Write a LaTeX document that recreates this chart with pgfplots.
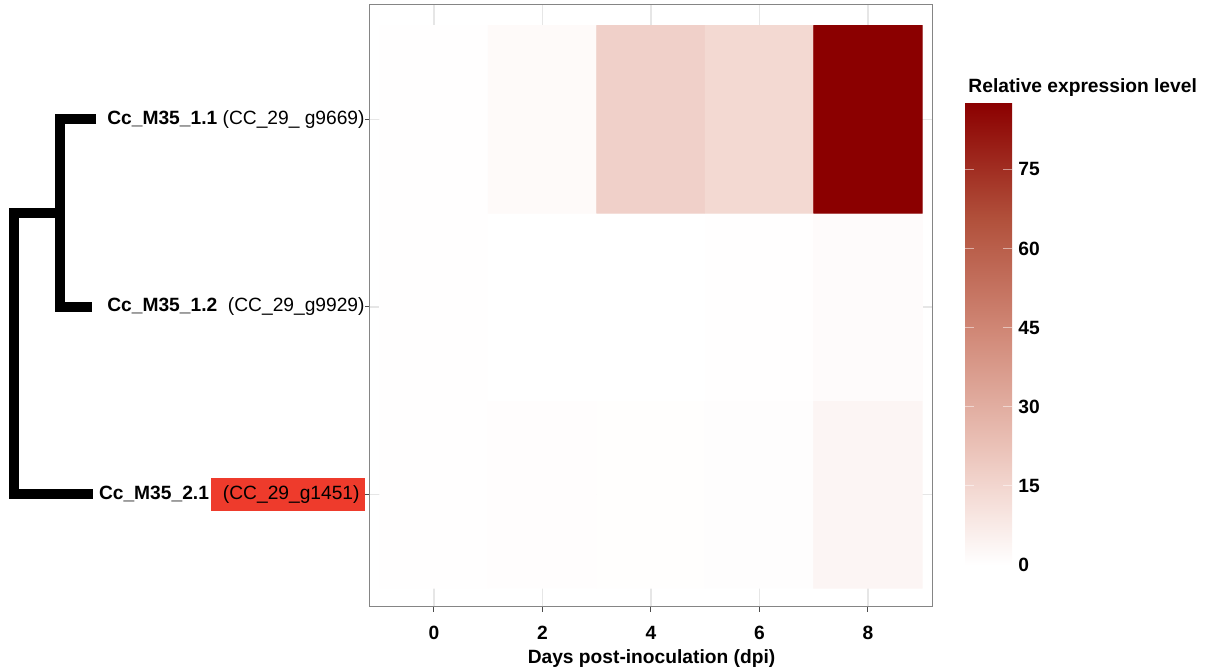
\documentclass[border=0pt]{standalone}
\usepackage{pgfplots}
\pgfplotsset{compat=1.18}
\usepackage{fontspec}
\setmainfont{Liberation Sans}
\definecolor{gridc}{HTML}{E6E6E6}
\definecolor{framec}{HTML}{858585}
\definecolor{hl}{HTML}{EE3B2C}
\newcommand\fs{\fontsize{9.6}{11}\selectfont}
\begin{document}
\begin{tikzpicture}
\begin{axis}[name=ax, scale only axis, width=281.5pt, height=301pt,
 xmin=-1.18, xmax=9.2, ymin=0.4, ymax=3.61,
 xtick={0,2,4,6,8}, xticklabels={0,2,4,6,8},
 ytick={1,2,3},
 yticklabels={
   {\textbf{Cc\_M35\_2.1}\hspace{1pt}{\setlength{\fboxsep}{4pt}\colorbox{hl}{\hspace{2pt}(CC\_29\_g1451)\hspace{-1.5pt}}}},
   {\textbf{Cc\_M35\_1.2}\ \ (CC\_29\_g9929)\hspace{2.5pt}},
   {\textbf{Cc\_M35\_1.1} (CC\_29\_ g9669)\hspace{2.5pt}}},
 xtick pos=bottom, ytick pos=left,
 tick align=outside, major tick length=2.5pt,
 tick style={color=black!70, line width=0.5pt},
 axis line style={framec, line width=0.5pt},
 grid=major, major grid style={gridc, line width=0.7pt},
 xticklabel style={font=\fs\bfseries, yshift=-3.5pt},
 yticklabel style={font=\fs, inner xsep=0pt},
 xlabel={Days post-inoculation (dpi)},
 xlabel style={font=\fs\bfseries, yshift=2pt},
 colormap={reds}{rgb255(0cm)=(255,255,255) rgb255(1cm)=(246,225,220) rgb255(2cm)=(235,195,185) rgb255(4cm)=(209,137,120) rgb255(6cm)=(177,80,59) rgb255(8cm)=(139,0,0)},
 point meta min=0, point meta max=87.6,
 colorbar,
 colorbar/width=23.5pt,
 colorbar style={
   at={(parent axis.north east)}, anchor=north west, xshift=7.5pt, yshift=-49pt,
   height=231pt,
   ytick={0,15,30,45,60,75}, yticklabels={0,15,30,45,60,75},
   yticklabel style={font=\fs\bfseries, inner xsep=3pt},
   axis line style={draw=none},
   tick align=inside, major tick length=4.5pt, ytick pos=both, yticklabel pos=right,
   tick style={draw=white, draw opacity=0.5, line width=0.6pt},
   title={Relative expression level},
   title style={at={(0,1)}, anchor=south west, font=\fs\bfseries, inner sep=0pt, xshift=1.5pt, yshift=-3pt},
 },
 clip=false]
\addplot[matrix plot*, mesh/cols=5, mesh/rows=3, point meta=explicit, shader=flat corner] coordinates {
 (0,1) [0.3] (2,1) [0.6] (4,1) [0.5] (6,1) [0.7] (8,1) [3.5]

 (0,2) [0.3] (2,2) [0.0] (4,2) [0.0] (6,2) [0.4] (8,2) [1.3]

 (0,3) [0.3] (2,3) [1.8] (4,3) [17.0] (6,3) [14.0] (8,3) [87.6]
};
\draw[line width=5pt, line join=miter, line cap=butt] (axis cs:-6.23,3) -- (axis cs:-6.90,3) -- (axis cs:-6.90,2) -- (axis cs:-6.30,2);
\draw[line width=5pt, line join=miter, line cap=butt] (axis cs:-6.90,2.5) -- (axis cs:-7.75,2.5) -- (axis cs:-7.75,1) -- (axis cs:-6.29,1);
\end{axis}
\pgfresetboundingbox
\path[use as bounding box] ([xshift=-185pt,yshift=-31pt]ax.south west) rectangle ([xshift=418pt,yshift=303.5pt]ax.south west);
\end{tikzpicture}
\end{document}
